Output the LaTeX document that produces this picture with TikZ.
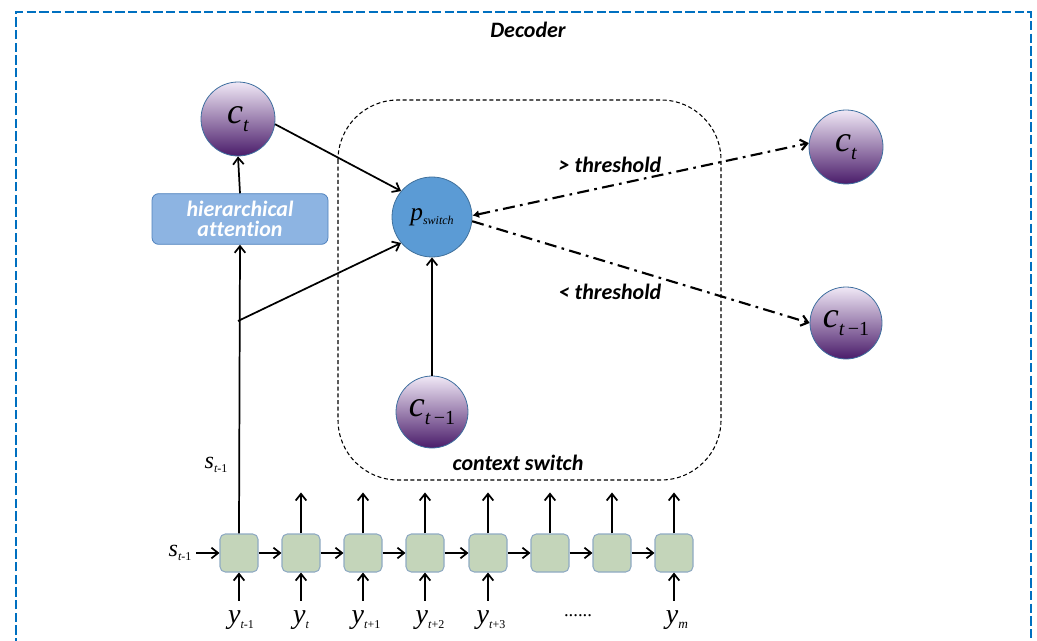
\documentclass[tikz,border=0pt]{standalone}
\usepackage{fontspec}
\setmainfont{Liberation Serif}
\newfontfamily\tnr{Liberation Serif}
\newfontfamily\calib[Ligatures=NoCommon]{Carlito}
\usetikzlibrary{arrows.meta}
\definecolor{frameblue}{HTML}{0070C0}
\definecolor{ptop}{HTML}{F0E8F6}
\definecolor{pmid}{HTML}{A884C2}
\definecolor{pbot}{HTML}{4A1C6A}
\definecolor{pborder}{HTML}{3F6F9F}
\definecolor{swfill}{HTML}{5B9BD5}
\definecolor{swborder}{HTML}{41719C}
\definecolor{attfill}{HTML}{8DB4E2}
\definecolor{attborder}{HTML}{4F81BD}
\definecolor{gfill}{HTML}{C4D5BA}
\definecolor{gborder}{HTML}{8FAAC3}
\newcommand\vsub[5]{{\tnr\fontsize{#3}{#3}\selectfont\itshape #1}\raisebox{-#5}{\tnr\fontsize{#4}{#4}\selectfont\itshape #2}}
\newcommand\sanslab[1]{{\calib\bfseries\itshape\fontsize{16.5}{18}\selectfont #1}}
\tikzset{
  x=0.75pt, y=-0.75pt,
  >={Straight Barb[length=5pt,width=8pt]},
  conn/.style={line width=1.3pt},
  purp/.style={circle, draw=pborder, line width=0.6pt, top color=ptop, middle color=pmid, bottom color=pbot, minimum size=55.5pt, inner sep=0pt},
  swnode/.style={circle, draw=swborder, line width=0.6pt, fill=swfill, minimum size=60pt, inner sep=0pt},
  attbox/.style={rectangle, rounded corners=5pt, draw=attborder, line width=0.6pt, fill=attfill, minimum width=132pt, minimum height=38pt, align=center, text=white, inner sep=1pt},
  cell/.style={rectangle, rounded corners=4pt, draw=gborder, line width=0.8pt, fill=gfill, minimum size=28.5pt, inner sep=0pt},
  dd/.style={line width=1.6pt, dash pattern=on 9pt off 4pt on 2pt off 4pt},
}
\begin{document}
\begin{tikzpicture}
\useasboundingbox (0,0) rectangle (1037,641);
\clip (0,0) rectangle (1037,641);
% outer frame
\draw[frameblue, line width=1.6pt, dash pattern=on 7pt off 2.5pt] (16,660) -- (16,12) -- (1031,12) -- (1031,660);
\node (dec) at (528,30) {\sanslab{Decoder}};
% context switch region
\draw[line width=0.8pt, dash pattern=on 3pt off 2pt, rounded corners=45pt] (338,100) rectangle (721,480);
\node (cs) at (518,463) {\sanslab{context switch}};
% nodes
\node[purp] (ct) at (238,119) {\vsub{c}{t}{27}{15}{6pt}};
\node[attbox] (att) at (240,219) {\sanslab{hierarchical}\\[3pt]\sanslab{attention}};
\node[swnode] (psw) at (432,217) {\vsub{p}{switch}{19}{9}{3pt}};
\node[purp, minimum size=54pt] (cin) at (432,412) {\vsub{c}{t\,\upshape−1}{27}{15}{6pt}};
\node[purp] (cr1) at (846,147) {\vsub{c}{t}{27}{15}{6pt}};
\node[purp, minimum size=54pt] (cr2) at (846,323) {\vsub{c}{t\,\upshape−1}{27}{15}{6pt}};
\node (gt) at (610,165) {\sanslab{> threshold}};
\node (lt) at (610,292) {\sanslab{< threshold}};
% bottom cells
\foreach \i/\x in {1/239,2/301,3/363,4/425,5/488,6/550,7/612,8/674}{
  \node[cell] (b\i) at (\x,553) {};
}
\node (sl) at (180,553) {\vsub{s}{t\upshape-1}{18}{9}{3pt}};
\node (sv) at (216,465) {\vsub{s}{t\upshape-1}{18}{9}{3pt}};
\node (y1) at (241,620) {\vsub{y}{t\upshape-1}{21}{9}{4pt}};
\node (y2) at (301,620) {\vsub{y}{t}{21}{9}{4pt}};
\node (y3) at (366,620) {\vsub{y}{t\upshape+1}{21}{9}{4pt}};
\node (y4) at (430,620) {\vsub{y}{t\upshape+2}{21}{9}{4pt}};
\node (y5) at (491,620) {\vsub{y}{t\upshape+3}{21}{9}{4pt}};
\node (dots) at (578,616) {\tnr\fontsize{14}{14}\selectfont ......};
\node (y8) at (677,620) {\vsub{y}{m}{21}{10}{4pt}};
% connectors
\coordinate (br) at (238,321);
\draw[conn,->] (b1.north) -- (att.south);
\draw[conn,->] (att.north) -- (ct.south);
\draw[conn,->] (br) -- (psw.220);
\draw[conn,->] (ct.-8) -- (psw.140);
\draw[conn,->] (cin.north) -- (psw.south);
\draw[dd,{Latex[length=5pt,width=6pt]}->] (psw.2) -- (cr1.174);
\draw[dd,->] (psw.-6) -- (cr2.west);
\draw[conn,->] (sl.east) -- (b1.west);
\foreach \a/\b in {1/2,2/3,3/4,4/5,5/6,6/7,7/8}{
  \draw[conn,->] (b\a.east) -- (b\b.west);
}
\foreach \i in {2,...,8}{
  \draw[conn,->] (b\i.north) -- ++(0,-41);
}
\foreach \i in {1,2,3,4,5,8}{
  \draw[conn,->] (b\i.south) ++(0,28) -- (b\i.south);
}
\end{tikzpicture}
\end{document}
